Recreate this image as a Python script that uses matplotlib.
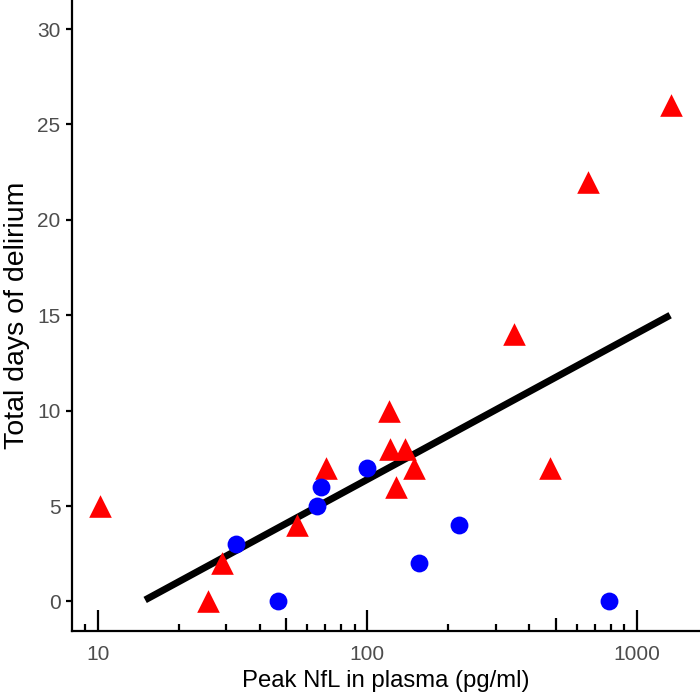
import numpy as np
import matplotlib
matplotlib.use("Agg")
import matplotlib.pyplot as plt

# peak NfL (pg/ml) vs total days of delirium, two groups
tri_x = [10.2, 25.7, 29.0, 55.0, 70.1, 120.8, 121.5, 128, 138, 149, 351, 476, 658, 1340]
tri_y = [5, 0, 2, 4, 7, 10, 8, 6, 8, 7, 14, 7, 22, 26]
circ_x = [32.6, 46.8, 64.9, 67.2, 99.5, 155.6, 220, 791]
circ_y = [3, 0, 5, 6, 7, 2, 4, 0]

# fitted line end points
line_x = [15.0, 1331]
line_y = [0.08, 15.0]

x_major = [10, 100, 1000]
x_mid = [50, 500]
x_minor = [m * 10 ** e for e in range(0, 4) for m in (2, 3, 4, 6, 7, 8, 9)]
y_ticks = [0, 5, 10, 15, 20, 25, 30]

plt.rcParams['font.family'] = ['Liberation Sans', 'DejaVu Sans']

fig = plt.figure(figsize=(7, 6.99), dpi=100)
ax = fig.add_axes([0.1029, 0.0966, 0.8971, 0.9034])

ax.plot(line_x, line_y, color='black', lw=5, solid_capstyle='butt', zorder=2)
ax.scatter(tri_x, tri_y, marker='^', s=265, color='#FF0000', linewidths=0, zorder=3)
ax.scatter(circ_x, circ_y, marker='o', s=165, color='#0000FF', linewidths=0, zorder=3)

ax.set_xscale('log')
ax.set_xticks(x_major)
ax.set_xticklabels([str(v) for v in x_major])
ax.set_xticks(x_minor, minor=True)
ax.xaxis.set_minor_formatter(matplotlib.ticker.NullFormatter())
ax.set_yticks(y_ticks)

# medium-length log ticks at the fives
ax.vlines(x_mid, 0, 0.022, transform=ax.get_xaxis_transform(), color='black',
          lw=1.6, zorder=4)

ax.set_xlim(8.03, 1718)
ax.set_ylim(-1.573, 31.52)

for s in ['top', 'right']:
    ax.spines[s].set_visible(False)
for s in ['left', 'bottom']:
    ax.spines[s].set_linewidth(1.6)

ax.tick_params(axis='x', which='major', direction='in', length=15, width=1.6,
               labelsize=15, labelcolor='#4D4D4D', pad=10)
ax.tick_params(axis='x', which='minor', direction='in', length=5, width=1.6)
ax.tick_params(axis='y', which='major', direction='out', length=4.3, width=1.6,
               labelsize=15, labelcolor='#4D4D4D', pad=4)

ax.set_xlabel('Peak NfL in plasma (pg/ml)', fontsize=17.2, labelpad=4)
ax.set_ylabel('Total days of delirium', fontsize=20.5, labelpad=5)

fig.savefig('out.png', dpi=100)
